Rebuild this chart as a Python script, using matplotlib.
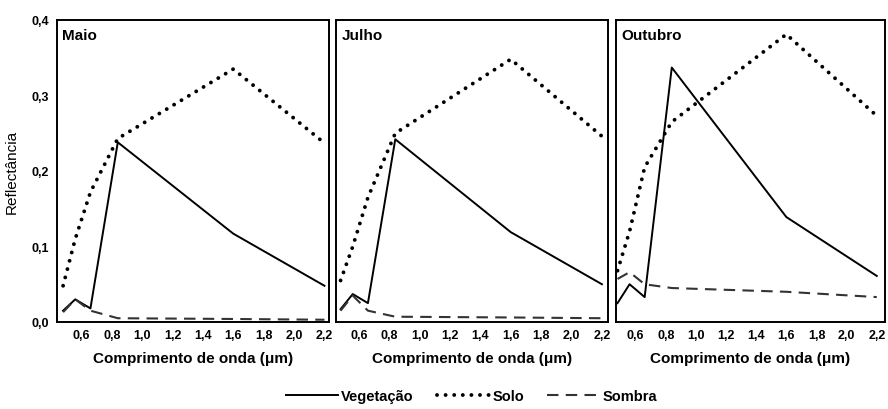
import matplotlib
matplotlib.use("Agg")
import matplotlib.pyplot as plt

plt.rcParams['font.family'] = ['Liberation Sans', 'DejaVu Sans']

# wavelengths (um) of the band centres
wavelength = [0.48, 0.56, 0.66, 0.84, 1.60, 2.20]

months = ["Maio", "Julho", "Outubro"]

# reflectance per month
vegetacao = {
    "Maio":    [0.015, 0.030, 0.018, 0.238, 0.117, 0.048],
    "Julho":   [0.017, 0.037, 0.025, 0.242, 0.119, 0.050],
    "Outubro": [0.025, 0.050, 0.033, 0.337, 0.139, 0.061],
}
solo = {
    "Maio":    [0.048, 0.110, 0.172, 0.243, 0.335, 0.237],
    "Julho":   [0.055, 0.100, 0.165, 0.250, 0.348, 0.246],
    "Outubro": [0.068, 0.120, 0.205, 0.265, 0.381, 0.273],
}
sombra = {
    "Maio":    [0.013, 0.030, 0.015, 0.005, 0.004, 0.003],
    "Julho":   [0.015, 0.035, 0.015, 0.007, 0.006, 0.005],
    "Outubro": [0.057, 0.066, 0.050, 0.045, 0.040, 0.033],
}

xticks = [0.6, 0.8, 1.0, 1.2, 1.4, 1.6, 1.8, 2.0, 2.2]
yticks = [0.0, 0.1, 0.2, 0.3, 0.4]

fig = plt.figure(figsize=(8.88, 4.10), dpi=100)

# axes boxes in figure fractions (left, bottom, width, height)
boxes = [(0.0642, 0.2122, 0.3063, 0.7366),
         (0.3784, 0.2122, 0.3063, 0.7366),
         (0.6937, 0.2122, 0.3030, 0.7366)]
xlims = [(0.44, 2.23), (0.45, 2.24), (0.47, 2.255)]

handles = None
for i, (m, box, xl) in enumerate(zip(months, boxes, xlims)):
    ax = fig.add_axes(box)
    l1, = ax.plot(wavelength, vegetacao[m], color='black', lw=1.4, label='Vegetação')
    l2, = ax.plot(wavelength, solo[m], color='black', lw=2.8,
                  linestyle=(0, (0.01, 2.2)), dash_capstyle='round', label='Solo')
    l3, = ax.plot(wavelength, sombra[m], color='#333333', lw=1.5,
                  linestyle=(0, (5.5, 3.5)), label='Sombra')
    handles = [l1, l2, l3]

    ax.set_xlim(*xl)
    ax.set_ylim(0.0, 0.4)
    ax.set_xticks(xticks)
    ax.set_xticklabels([f"{v:.1f}".replace('.', ',') for v in xticks],
                       fontsize=9, fontweight='bold')
    ax.set_yticks(yticks)
    if i == 0:
        ax.set_yticklabels([f"{v:.1f}".replace('.', ',') for v in yticks],
                           fontsize=9, fontweight='bold')
        ax.set_ylabel('Reflectância', fontsize=11, labelpad=9)
    else:
        ax.set_yticklabels([])
    ax.tick_params(axis='x', length=0, pad=5)
    ax.tick_params(axis='y', length=0, pad=6)
    ax.set_xlabel('Comprimento de onda (μm)', fontsize=11, fontweight='bold', labelpad=7)
    for s in ax.spines.values():
        s.set_linewidth(1.4)
    ax.text(0.02, 0.975, m, transform=ax.transAxes, va='top', ha='left',
            fontsize=11, fontweight='bold')

fig.legend(handles=handles, loc='center', bbox_to_anchor=(0.531, 0.032), ncol=3,
           frameon=False, handlelength=3.6, handletextpad=0.2,
           columnspacing=1.6, prop={'weight': 'bold', 'size': 10.5})

fig.savefig('out.png', dpi=100)
